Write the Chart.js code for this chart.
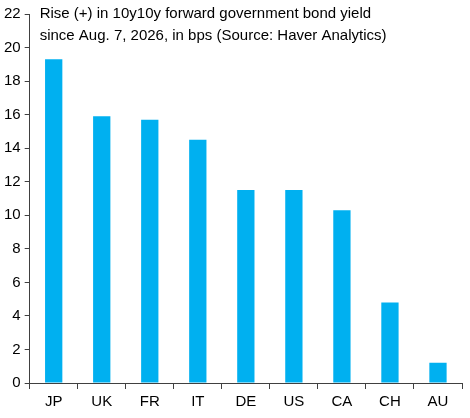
<!DOCTYPE html>
<html><head><script src="https://cdn.jsdelivr.net/npm/chart.js"></script>
<style>html,body{margin:0;padding:0;background:#fff}#w{width:470px;height:418px}</style></head>
<body><div id="w"><canvas id="c"></canvas></div>
<script>
const categories=["JP","UK","FR","IT","DE","US","CA","CH","AU"];
const values=[19.3,15.9,15.7,14.5,11.5,11.5,10.3,4.8,1.2];
const titleLines=["Rise (+) in 10y10y forward government bond yield","since Aug. 7, 2026, in bps (Source: Haver Analytics)"];
const titlePlugin={id:'tp',afterDraw(ch){const c=ch.ctx,a=ch.chartArea;c.save();c.fillStyle='#000';c.font='15px "Liberation Sans", Arial, sans-serif';c.textBaseline='top';titleLines.forEach((t,i)=>c.fillText(t,a.left+10,a.top-8+i*22));c.restore();}};
new Chart(document.getElementById('c'),{type:'bar',
data:{labels:categories,datasets:[{data:values,backgroundColor:'#00B0F0',barPercentage:0.36,categoryPercentage:1}]},
options:{responsive:true,maintainAspectRatio:false,animation:false,
layout:{padding:{top:14,right:8,left:0,bottom:3}},
plugins:{legend:{display:false},tooltip:{enabled:false}},
scales:{y:{min:0,max:22,ticks:{stepSize:2,color:'#000',font:{size:15,family:'"Liberation Sans", Arial'},padding:4},grid:{drawOnChartArea:false,drawTicks:true,tickLength:5,color:'#404040'},border:{color:'#404040'}},
x:{offset:true,ticks:{color:'#000',font:{size:15,family:'"Liberation Sans", Arial'},padding:4},grid:{offset:true,drawOnChartArea:false,drawTicks:true,tickLength:6,color:'#404040'},border:{color:'#404040'}}}},
plugins:[titlePlugin]});
</script></body></html>
